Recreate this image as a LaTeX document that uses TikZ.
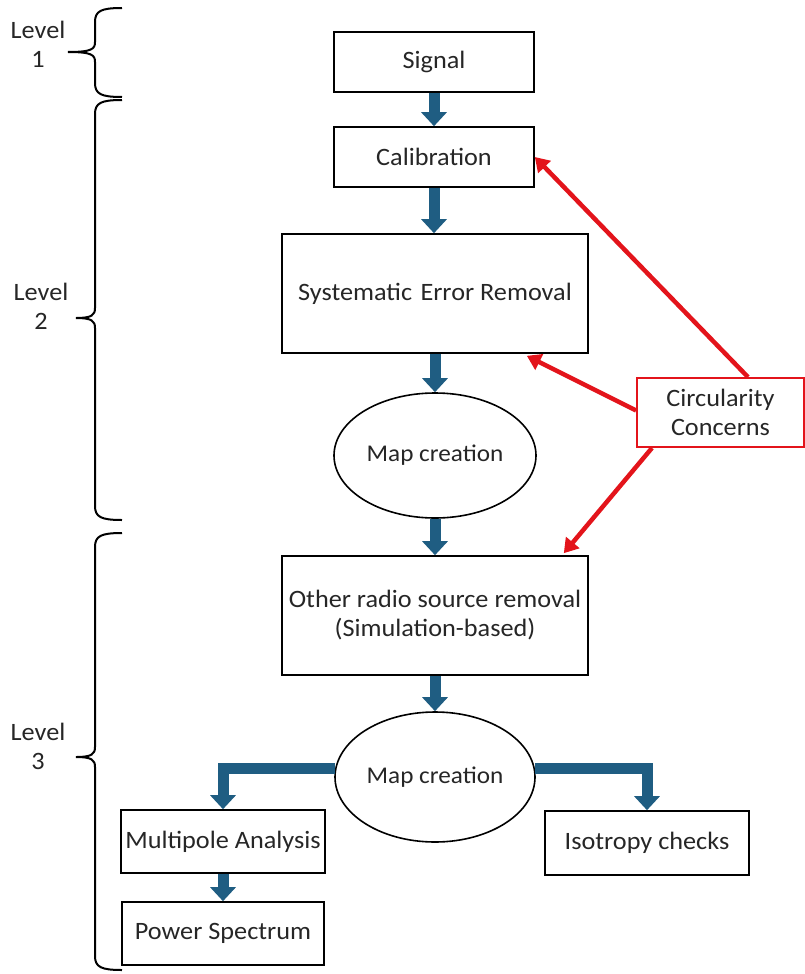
\documentclass[tikz,border=0pt]{standalone}
\usepackage{fontspec}
\setmainfont{Carlito}[FakeStretch=1.05]
\usetikzlibrary{arrows.meta,shapes.geometric,calc}
\definecolor{flowblue}{HTML}{1F5D82}
\definecolor{cred}{HTML}{E3141B}
\definecolor{txt}{HTML}{262626}
\newcommand\lvlbrace[4]{%
  \draw[bracepath] (122,#1) .. controls (101,#1) and (95,#1+3) .. (95,#1+14) -- (95,#2-10)
    .. controls (95,#2-3) and (92,#2) .. (#4,#2)
    .. controls (92,#2) and (95,#2+3) .. (95,#2+10) -- (95,#3-14)
    .. controls (95,#3-3) and (101,#3) .. (122,#3);}
\begin{document}
\begin{tikzpicture}[x=1pt,y=-1pt,
  font=\fontsize{25}{29}\selectfont, text=txt,
  box/.style={draw=black, line width=1.6pt, inner sep=0pt, align=center},
  ell/.style={ellipse, draw=black, line width=1.6pt, inner sep=0pt, align=center},
  flow/.style={draw=flowblue, line width=11pt, line join=miter,
    -{Triangle[length=14pt,width=25pt]}},
  redarrow/.style={draw=cred, line width=4.5pt, -{Triangle[length=14pt,width=17pt]}},
  bracepath/.style={draw=black, line width=2pt},
  lvl/.style={align=center, inner sep=0pt}]
\useasboundingbox (0,0) rectangle (805,974);

% level braces and labels
\lvlbrace{8}{52}{97}{68}
\lvlbrace{100}{318}{520}{76}
\lvlbrace{533}{757}{970}{76}
\node[lvl] (l1) at (38,44) {Level\\1};
\node[lvl] (l2) at (41,306) {Level\\2};
\node[lvl] (l3) at (38,746) {Level\\3};

% main nodes
\node[box, minimum width=200pt, minimum height=60pt] (sig) at (434,62) {Signal};
\node[box, minimum width=200pt, minimum height=60pt] (cal) at (434,157) {Calibration};
\node[box, minimum width=306pt, minimum height=119pt] (sys) at (435,293.5) {Systematic\,\,Error Removal};
\node[ell, minimum width=202pt, minimum height=125pt, font=\fontsize{24}{28}\selectfont] (m1) at (435,455.5) {Map creation};
\node[box, minimum width=306pt, minimum height=119pt] (oth) at (435,615.5) {Other radio source removal\\(Simulation-based)};
\node[ell, minimum width=200pt, minimum height=130pt, font=\fontsize{24}{28}\selectfont] (m2) at (435,777) {Map creation};
\node[box, minimum width=204pt, minimum height=63pt] (mult) at (223,841.5) {Multipole Analysis};
\node[box, minimum width=202pt, minimum height=63pt] (pow) at (223,933.5) {Power Spectrum};
\node[box, minimum width=204pt, minimum height=64pt] (iso) at (647,843) {Isotropy checks};
\node[box, draw=cred, line width=1.8pt, minimum width=167pt, minimum height=69pt] (circ) at (720.5,412.5) {Circularity\\Concerns};

% flow arrows
\draw[flow] (sig.south) -- (cal.north);
\draw[flow] (cal.south) -- (cal.south |- sys.north);
\draw[flow] (sys.south) -- (m1.north);
\draw[flow] (m1.south) -- (oth.north);
\draw[flow] (oth.south) -- (m2.north);
\draw[flow] (m2.175) -| (mult.north);
\draw[flow] (m2.5) -| (iso.north);
\draw[flow] (mult.south) -- (pow.north);

% circularity arrows
\coordinate (t1) at ($(sys.south east)+(-62,2)$);
\coordinate (t2) at ($(oth.north east)+(-25,-2)$);
\draw[redarrow] ($(circ.north)+(27.5,0)$) -- (cal.east);
\draw[redarrow] ($(circ.west)+(0,-2)$) -- (t1);
\draw[redarrow] ($(circ.south)+(-68.5,0)$) -- (t2);
\end{tikzpicture}
\end{document}
